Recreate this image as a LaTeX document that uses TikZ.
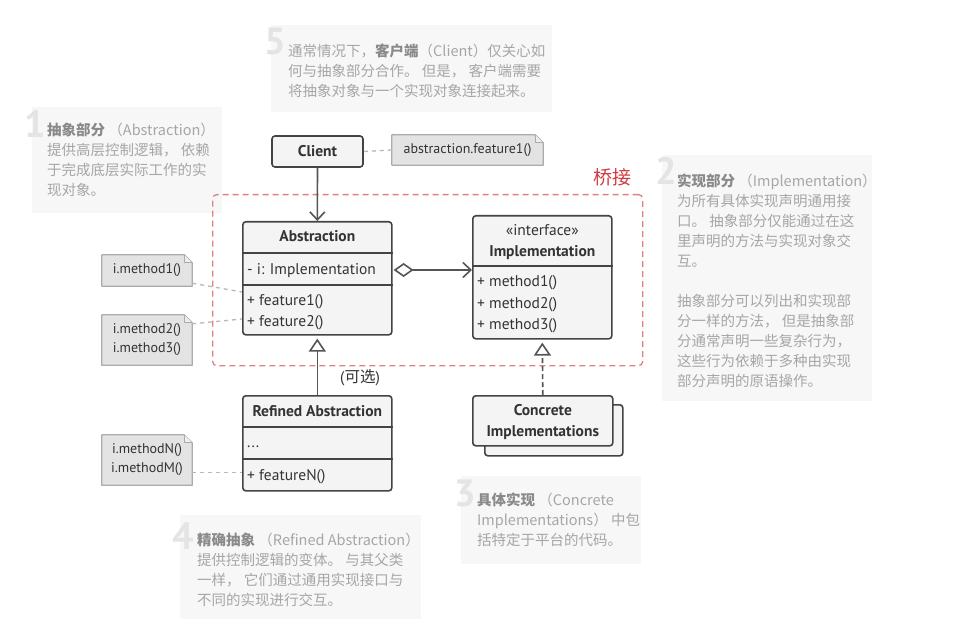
\documentclass[tikz,border=0pt]{standalone}
\usepackage{fontspec}
\setmainfont{PT Sans}
\newfontfamily\cjk{Noto Sans CJK SC}
\usetikzlibrary{arrows.meta,calc,backgrounds}
\pgfdeclarelayer{backmost}
\pgfsetlayers{backmost,background,main}
\definecolor{umlborder}{HTML}{444444}
\definecolor{umlfill}{HTML}{F4F4F4}
\definecolor{umltext}{HTML}{333333}
\definecolor{notefill}{HTML}{E3E3E3}
\definecolor{noteborder}{HTML}{ABABAB}
\definecolor{linkgray}{HTML}{B8B8B8}
\definecolor{bgfill}{HTML}{F7F7F7}
\definecolor{descc}{HTML}{A6A6A6}
\definecolor{descb}{HTML}{8A8A8A}
\definecolor{digitc}{HTML}{E4E4E4}
\definecolor{bridgec}{HTML}{E08080}
\definecolor{bridget}{HTML}{D03A42}
\definecolor{connc}{HTML}{555555}
\newcommand\bt[1]{{\bfseries\color{descb}#1}}
\begin{document}
\begin{tikzpicture}[x=1pt,y=-1pt,
  umlbox/.style={draw=umlborder, fill=umlfill, line width=1.6pt, rounded corners=3pt, inner sep=0pt},
  umlt/.style={inner sep=0pt, anchor=base west, font=\fontsize{15.5}{18}\selectfont, text=umltext},
  umlb/.style={inner sep=0pt, anchor=base, font=\fontsize{15.5}{21}\selectfont\bfseries, text=umltext},
  divider/.style={draw=umlborder, line width=1.6pt},
  conn/.style={draw=connc, line width=1.6pt},
  notelink/.style={draw=linkgray, line width=1.3pt, dash pattern=on 4pt off 4pt},
  notebox/.style={draw=noteborder, fill=notefill, line width=1.2pt, line join=round},
  notet/.style={inner sep=0pt, font=\fontsize{14}{19}\selectfont, text=umltext, align=center},
  digit/.style={inner sep=0pt, anchor=north west, font=\fontsize{38}{38}\selectfont\bfseries, text=digitc},
  desc/.style={inner sep=0pt, anchor=base west, font=\cjk\fontsize{14.5}{20}\selectfont, text=descc},
  bridgebox/.style={draw=bridgec, line width=1.3pt, dash pattern=on 6pt off 4pt, rounded corners=4pt, inner sep=0pt}
]
\useasboundingbox (0,0) rectangle (971,628);
\begin{pgfonlayer}{backmost}
\fill[white] (0,0) rectangle (971,628);
\end{pgfonlayer}

% ---------- description boxes ----------
\fill[bgfill] (271,25) rectangle (552,112);
\fill[bgfill] (32,107) rectangle (222,213);
\fill[bgfill] (662,155) rectangle (872,401);
\fill[bgfill] (461,476) rectangle (641,564);
\fill[bgfill] (180,515) rectangle (421,619);

\node[digit] (g5) at (264,28) {5};
\node[digit] (g1) at (24,110) {1};
\node[digit] (g2) at (655,157) {2};
\node[digit] (g3) at (454,480) {3};
\node[digit] (g4) at (172,523) {4};

\node[desc] (d5a) at (288,56.5) {通常情况下，\bt{客户端}（Client）仅关心如};
\node[desc] (d5b) at (288,76.5) {何与抽象部分合作。 但是， 客户端需要};
\node[desc] (d5c) at (288,96.5) {将抽象对象与一个实现对象连接起来。};

\node[desc] (d1a) at (47,135.5) {\bt{抽象部分} （Abstraction）};
\node[desc] (d1b) at (47,155.5) {提供高层控制逻辑， 依赖};
\node[desc] (d1c) at (47,175.5) {于完成底层实际工作的实};
\node[desc] (d1d) at (47,195.5) {现对象。};

\node[desc] (d2a) at (677,186.5) {\bt{实现部分} （Implementation）};
\node[desc] (d2b) at (677,206.5) {为所有具体实现声明通用接};
\node[desc] (d2c) at (677,226.5) {口。 抽象部分仅能通过在这};
\node[desc] (d2d) at (677,246.5) {里声明的方法与实现对象交};
\node[desc] (d2e) at (677,266.5) {互。};
\node[desc] (d2f) at (677,306.5) {抽象部分可以列出和实现部};
\node[desc] (d2g) at (677,326.5) {分一样的方法， 但是抽象部};
\node[desc] (d2h) at (677,346.5) {分通常声明一些复杂行为，};
\node[desc] (d2i) at (677,366.5) {这些行为依赖于多种由实现};
\node[desc] (d2j) at (677,386.5) {部分声明的原语操作。};

\node[desc] (d3a) at (477,505.5) {\bt{具体实现} （Concrete};
\node[desc] (d3b) at (477,525.5) {Implementations） 中包};
\node[desc] (d3c) at (477,545.5) {括特定于平台的代码。};

\node[desc] (d4a) at (197,545.5) {\bt{精确抽象} （Refined Abstraction）};
\node[desc] (d4b) at (197,565.5) {提供控制逻辑的变体。 与其父类};
\node[desc] (d4c) at (197,585.5) {一样， 它们通过通用实现接口与};
\node[desc] (d4d) at (197,605.5) {不同的实现进行交互。};

% ---------- bridge ----------
\node[bridgebox, minimum width=430pt, minimum height=171pt, anchor=north west] (bridge) at (212,194) {};
\node[inner sep=0pt, font=\cjk\fontsize{19}{19}\selectfont, text=bridget] (bridgelbl) at (612,177) {桥接};

% ---------- client ----------
\node[umlbox, minimum width=91pt, minimum height=31pt, font=\fontsize{15.5}{18}\selectfont\bfseries, text=umltext] (client) at (317.5,151.5) {Client};

% notes
\node[notet, minimum width=151pt, minimum height=30pt] (n0) at (467.5,150) {abstraction.feature1()};
\node[notet, minimum width=90pt, minimum height=31pt] (n1) at (147,270.5) {i.method1()};
\node[notet, minimum width=90pt, minimum height=50pt] (n2) at (147,340) {i.method2()\\i.method3()};
\node[notet, minimum width=90pt, minimum height=50pt] (n3) at (147,460) {i.methodN()\\i.methodM()};
\begin{scope}[on background layer]
\foreach \n in {n0,n1,n2,n3}{
  \draw[notebox] (\n.south west) -- (\n.north west) -- ($(\n.north east)+(-8,0)$) -- ($(\n.north east)+(0,8)$) -- (\n.south east) -- cycle;
  \draw[notebox, fill=notefill!60!white] ($(\n.north east)+(-8,0)$) -- ($(\n.north east)+(-8,8)$) -- ($(\n.north east)+(0,8)$);
}
\end{scope}

% ---------- Abstraction ----------
\node[umlbox, minimum width=149pt, minimum height=113pt, anchor=north west] (abs) at (242,221) {};
\draw[divider] ($(abs.north west)+(0,32)$) -- ($(abs.north east)+(0,32)$);
\draw[divider] ($(abs.north west)+(0,64)$) -- ($(abs.north east)+(0,64)$);
\node[umlb] (absT) at ($(abs.north)+(0,21)$) {Abstraction};
\node[umlt] (absF) at ($(abs.north west)+(5,53)$) {- i: Implementation};
\node[umlt] (absM1) at ($(abs.north west)+(5,84)$) {+ feature1()};
\node[umlt] (absM2) at ($(abs.north west)+(5,105)$) {+ feature2()};

% ---------- Implementation ----------
\node[umlbox, minimum width=139pt, minimum height=123pt, anchor=north west] (impl) at (472,215) {};
\draw[divider] ($(impl.north west)+(0,51)$) -- ($(impl.north east)+(0,51)$);
\node[umlt, anchor=base] (implS) at ($(impl.north)+(0,21)$) {«interface»};
\node[umlb] (implT) at ($(impl.north)+(0,42)$) {Implementation};
\node[umlt] (implM1) at ($(impl.north west)+(5,72)$) {+ method1()};
\node[umlt] (implM2) at ($(impl.north west)+(5,93)$) {+ method2()};
\node[umlt] (implM3) at ($(impl.north west)+(5,114)$) {+ method3()};

% ---------- Refined Abstraction ----------
\node[umlbox, minimum width=149pt, minimum height=95pt, anchor=north west] (ref) at (242,395) {};
\draw[divider] ($(ref.north west)+(0,32)$) -- ($(ref.north east)+(0,32)$);
\draw[divider] ($(ref.north west)+(0,64)$) -- ($(ref.north east)+(0,64)$);
\node[umlb] (refT) at ($(ref.north)+(0,21)$) {Refined Abstraction};
\node[umlt] (refF) at ($(ref.north west)+(5,52)$) {...};
\node[umlt] (refM) at ($(ref.north west)+(5,85)$) {+ featureN()};

% ---------- Concrete Implementations ----------
\node[umlbox, minimum width=138pt, minimum height=51pt, anchor=north west] (concB) at (484,404) {};
\node[umlbox, minimum width=140pt, minimum height=50pt, anchor=north west] (conc) at (472,395) {};
\node[umlb, align=center, anchor=center] (concT) at ($(conc.center)+(0,1)$) {Concrete\\Implementations};

% ---------- connectors ----------
\draw[conn, -{Straight Barb[length=8pt,width=15pt]}] (client.south) -- (abs.north);
\draw[notelink] (client.east) -- (n0.west);

\coordinate (aggS) at ($(abs.north east)+(1,49)$);
\coordinate (aggE) at (impl.west |- aggS);
\draw[conn, {Diamond[open,length=20pt,width=14pt]}-{Straight Barb[length=8pt,width=15pt]}] (aggS) -- (aggE);

\draw[conn, -{Triangle[open,length=13pt,width=17pt]}] (ref.north) -- ($(abs.south)+(0,3)$);
\draw[conn, dash pattern=on 5pt off 3pt, -{Triangle[open,length=13pt,width=17pt]}] (conc.north) -- ($(impl.south)+(0,3)$);

\node[inner sep=0pt, font=\fontsize{15.5}{18}\selectfont, text=umltext] (opt) at (360,378) {(\cjk 可选\normalfont)};

\coordinate (l1a) at ($(n1.south east)+(0,-3)$);
\coordinate (l1b) at ($(abs.north west)+(0,71)$);
\draw[notelink] (l1a) -- (l1b);
\coordinate (l2a) at ($(n2.north east)+(0,9)$);
\coordinate (l2b) at ($(abs.north west)+(0,98)$);
\draw[notelink] (l2a) -- (l2b);
\coordinate (l3a) at ($(n3.north east)+(0,38)$);
\coordinate (l3b) at (ref.west |- l3a);
\draw[notelink] (l3a) -- (l3b);
\end{tikzpicture}
\end{document}
